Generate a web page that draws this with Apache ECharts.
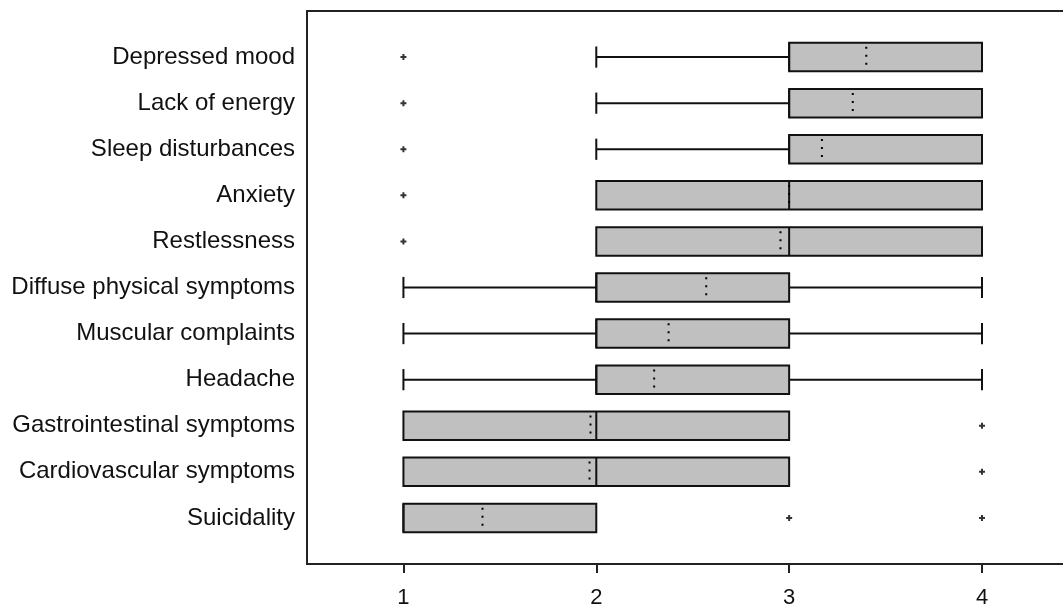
<!DOCTYPE html>
<html>
<head>
<meta charset="utf-8">
<script src="https://cdn.jsdelivr.net/npm/echarts@6/dist/echarts.min.js"></script>
<style>
html,body{margin:0;padding:0;background:#fff;}
#chart{width:1063px;height:608px;}
</style>
</head>
<body>
<div id="chart"></div>
<script>
const categories = ['Depressed mood','Lack of energy','Sleep disturbances','Anxiety','Restlessness',
  'Diffuse physical symptoms','Muscular complaints','Headache','Gastrointestinal symptoms',
  'Cardiovascular symptoms','Suicidality'];
const lowWhisker = [2,2,2,2,2,1,1,1,1,1,1];
const q1Values   = [3,3,3,2,2,2,2,2,1,1,1];
const medians    = [3,3,3,3,3,2,2,2,2,2,1];
const q3Values   = [4,4,4,4,4,3,3,3,3,3,2];
const highWhisker= [4,4,4,4,4,4,4,4,3,3,2];
const means      = [3.40,3.33,3.17,3.00,2.955,2.57,2.375,2.30,1.97,1.965,1.41];
const outlierCat = [0,1,2,3,4,8,9,10,10];
const outlierVal = [1,1,1,1,1,4,4,3,4];
const xTicks = [1,2,3,4];

const boxData = categories.map((c,i)=>[i, lowWhisker[i], q1Values[i], medians[i], q3Values[i], highWhisker[i]]);
const meanData = categories.map((c,i)=>[i, means[i]]);
const outlierData = outlierCat.map((c,i)=>[outlierVal[i], c]);
const yIdx = categories.map((c,i)=>i);

const chart = echarts.init(document.getElementById('chart'), null, {renderer:'canvas'});
const LINE = '#111';
const FONT = 'Liberation Sans, Arial, sans-serif';

function renderBox(params, api){
  const i = api.value(0);
  const lo = api.value(1), q1 = api.value(2), md = api.value(3), q3 = api.value(4), hi = api.value(5);
  const c = api.coord([q1, i]);
  const unit = api.size([0,1])[1];
  const h = unit*0.62;
  const capH = unit*0.46;
  const y = c[1];
  const xLo = api.coord([lo,i])[0], xQ1 = c[0], xMd = api.coord([md,i])[0],
        xQ3 = api.coord([q3,i])[0], xHi = api.coord([hi,i])[0];
  const children = [];
  const ls = {stroke: LINE, lineWidth: 2};
  if (xLo < xQ1) {
    children.push({type:'line', shape:{x1:xLo,y1:y,x2:xQ1,y2:y}, style:ls});
    children.push({type:'line', shape:{x1:xLo,y1:y-capH/2,x2:xLo,y2:y+capH/2}, style:ls});
  }
  if (xHi > xQ3) {
    children.push({type:'line', shape:{x1:xQ3,y1:y,x2:xHi,y2:y}, style:ls});
    children.push({type:'line', shape:{x1:xHi,y1:y-capH/2,x2:xHi,y2:y+capH/2}, style:ls});
  }
  children.push({type:'rect', shape:{x:xQ1,y:y-h/2,width:xQ3-xQ1,height:h},
    style:{fill:'#c0c0c0', stroke: LINE, lineWidth: 2}});
  children.push({type:'line', shape:{x1:xMd,y1:y-h/2,x2:xMd,y2:y+h/2}, style:ls});
  return {type:'group', children};
}

function renderMean(params, api){
  const i = api.value(0);
  const c = api.coord([api.value(1), i]);
  const unit = api.size([0,1])[1];
  const h = unit*0.62;
  return {type:'line', z2: 10,
    shape:{x1:c[0], y1:c[1]-h/2+4, x2:c[0], y2:c[1]+h/2-2},
    style:{stroke:'#000', lineWidth:2, lineDash:[2,6]}};
}

chart.setOption({
  animation:false,
  backgroundColor:'#fff',
  grid:{left:307, right:0, top:11, bottom:44, show:false, containLabel:false, outerBoundsMode:'none'},
  xAxis:[{
    type:'value', min:0.5, max:4.42,
    axisLine:{show:true, onZero:false, lineStyle:{color:'#222', width:2}},
    axisTick:{show:true, length:9, lineStyle:{color:'#222', width:2}, customValues:xTicks},
    axisLabel:{customValues:xTicks, margin:23, fontFamily:FONT, fontSize:22, color:'#111'},
    splitLine:{show:false}
  },{
    type:'value', min:0.5, max:4.42, position:'top',
    axisLine:{show:true, onZero:false, lineStyle:{color:'#222', width:2}},
    axisTick:{show:false}, axisLabel:{show:false}, splitLine:{show:false}
  }],
  yAxis:{
    type:'value', min:-1, max:11, inverse:true,
    axisLine:{show:true, onZero:false, lineStyle:{color:'#222', width:2}},
    axisTick:{show:false}, splitLine:{show:false},
    axisLabel:{customValues:yIdx, margin:12, fontFamily:FONT, fontSize:24, color:'#111',
      formatter:function(v){ return categories[Math.round(v)] || ''; }}
  },
  series:[
    {type:'custom', renderItem:renderBox, data:boxData, encode:{y:0, x:[1,2,3,4,5]}, z:2},
    {type:'custom', renderItem:renderMean, data:meanData, encode:{y:0, x:1}, z:3},
    {type:'scatter', data:outlierData, symbol:'path://M2,0H4V2H6V4H4V6H2V4H0V2H2Z', symbolSize:6,
      itemStyle:{color:'#000'}, z:4}
  ]
});
</script>
</body>
</html>
